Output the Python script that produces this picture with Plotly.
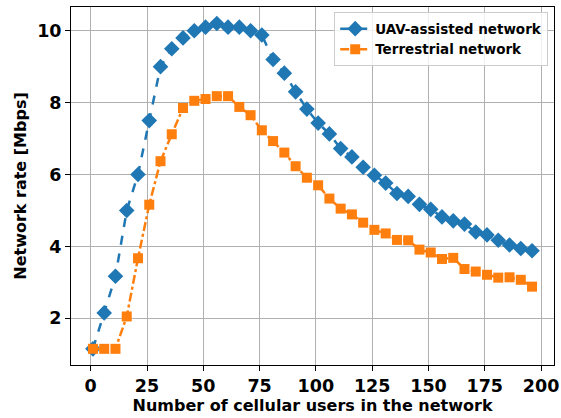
import plotly.graph_objects as go

users = list(range(1, 197, 5))
uav_rate = [1.15, 2.15, 3.17, 5.0, 6.0, 7.5, 9.0, 9.5, 9.8, 10.0,
            10.1, 10.2, 10.1, 10.1, 10.0, 9.88, 9.2, 8.82, 8.3, 7.82,
            7.43, 7.13, 6.72, 6.49, 6.2, 5.98, 5.76, 5.47, 5.39, 5.17,
            5.03, 4.82, 4.71, 4.62, 4.4, 4.32, 4.17, 4.04, 3.94, 3.88]
terr_rate = [1.15, 1.15, 1.15, 2.05, 3.67, 5.16, 6.37, 7.12, 7.85, 8.05,
             8.1, 8.18, 8.18, 7.88, 7.65, 7.23, 6.93, 6.61, 6.23, 5.91,
             5.7, 5.33, 5.05, 4.89, 4.66, 4.46, 4.36, 4.18, 4.17, 3.91,
             3.83, 3.65, 3.68, 3.37, 3.3, 3.21, 3.13, 3.14, 3.07, 2.88]
x_ticks = [0, 25, 50, 75, 100, 125, 150, 175, 200]
y_ticks = [2, 4, 6, 8, 10]

FONT = "DejaVu Sans"

fig = go.Figure()
fig.add_trace(go.Scatter(
    x=users, y=uav_rate, mode="lines+markers", name="UAV-assisted network",
    line=dict(color="#1f77b4", width=2.5, dash="dash"),
    marker=dict(symbol="diamond", size=12, color="#1f77b4"),
))
fig.add_trace(go.Scatter(
    x=users, y=terr_rate, mode="lines+markers", name="Terrestrial network",
    line=dict(color="#ff7f0e", width=2.5, dash="dashdot"),
    marker=dict(symbol="square", size=10, color="#ff7f0e"),
))

axis_common = dict(
    showline=True, mirror=True, linecolor="black", linewidth=1,
    ticks="outside", ticklen=5, tickcolor="black", tickwidth=1,
    showgrid=True, gridcolor="#b0b0b0", gridwidth=1, zeroline=False,
    automargin=False,
    tickfont=dict(family=FONT, size=17.5, color="black", weight="bold"),
)

fig.update_layout(
    width=561, height=418,
    margin=dict(l=71, r=7, t=7, b=53),
    paper_bgcolor="white", plot_bgcolor="white",
    font=dict(family=FONT, color="black"),
    xaxis=dict(
        range=[-8.75, 205.75], tickvals=x_ticks,
        title=dict(text="Number of cellular users in the network",
                   font=dict(family=FONT, size=16, color="black", weight="bold"),
                   standoff=2),
        **axis_common,
    ),
    yaxis=dict(
        range=[0.7, 10.66], tickvals=y_ticks,
        title=dict(text="Network rate [Mbps]",
                   font=dict(family=FONT, size=16, color="black", weight="bold"),
                   standoff=6),
        **axis_common,
    ),
    legend=dict(
        x=0.988, y=0.985, xanchor="right", yanchor="top",
        bgcolor="rgba(255,255,255,0.8)", bordercolor="#cccccc", borderwidth=1,
        font=dict(family=FONT, size=13.5, color="black", weight="bold"),
        tracegroupgap=0, itemwidth=30,
    ),
    showlegend=True,
)

fig.write_html(
    "out.html",
    config={"displayModeBar": False},
    post_script="document.body.style.margin='0';document.body.style.overflow='hidden';",
)
